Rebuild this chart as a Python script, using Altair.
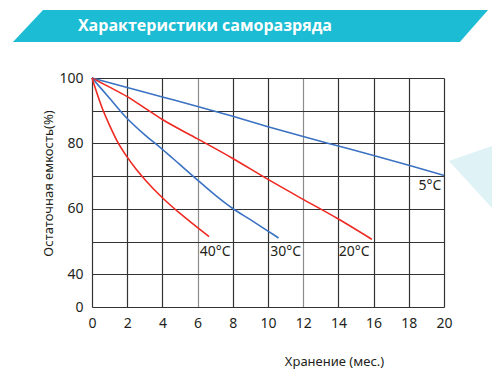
import altair as alt
import pandas as pd

# ---- data ----
months_5 = [0, 2, 4, 6, 8, 10, 12, 14, 16, 18, 20]
capacity_5 = [100, 97.1, 94.2, 91.3, 88.3, 85.1, 82.1, 79.2, 76.3, 73.3, 70.2]

months_20 = [0, 1, 2, 3, 4, 6, 8, 10, 12, 14, 15.9]
capacity_20 = [100, 97.2, 94.3, 90.8, 87.3, 81.4, 75.4, 69.0, 62.9, 56.9, 50.7]

months_30 = [0, 1, 2, 3, 4, 5, 6, 7, 8, 9, 10, 10.6]
capacity_30 = [100, 93.8, 87.6, 82.6, 78.2, 73.5, 68.8, 64.2, 60.1, 56.7, 53.2, 51.1]

months_40 = [0, 0.6, 1.0, 1.4, 2.0, 2.5, 3.0, 4.0, 5.0, 6.0, 6.65]
capacity_40 = [100, 90.5, 85.5, 81, 75.8, 72.2, 69, 63.4, 58.6, 54.3, 51.5]

series_names = ["5°C", "20°C", "30°C", "40°C"]
series_colors = ["#3b72c2", "#ee2a22", "#3b72c2", "#ee2a22"]

label_text = ["40°C", "30°C", "20°C", "5°C"]
label_month = [7.0, 11.0, 14.9, 19.2]
label_value = [46.8, 46.8, 46.8, 67.0]

x_ticks = list(range(0, 21, 2))
y_ticks = [30, 40, 50, 60, 70, 80, 90, 100]

title_text = "Характеристики саморазряда"
x_title = "Хранение (мес.)"
y_title = "Остаточная емкость(%)"

# ---- tables ----
rows = []
for name, ms, cs in [("5°C", months_5, capacity_5), ("20°C", months_20, capacity_20),
                     ("30°C", months_30, capacity_30), ("40°C", months_40, capacity_40)]:
    for m, c in zip(ms, cs):
        rows.append({"series": name, "month": m, "value": c})
df = pd.DataFrame(rows)
labels_df = pd.DataFrame({"text": label_text, "month": label_month, "value": label_value})

# decorative shapes (banner and side triangle), in chart units
banner_df = pd.DataFrame({"month": [-4.49, -2.78, 20.9, 22.5],
                          "value": [111.0, 120.8, 120.8, 120.8],
                          "bottom": [111.0, 111.0, 111.0, 120.8]})
tri_df = pd.DataFrame({"month": [20.28, 24.0], "value": [74.6, 81.6], "bottom": [74.6, 52.8]})
title_df = pd.DataFrame({"text": [title_text], "month": [-0.8], "value": [115.9]})

FONT = "Noto Sans"
DARK = "#231f20"

xscale = alt.Scale(domain=[0, 20], nice=False, zero=False)
yscale = alt.Scale(domain=[30, 100], nice=False, zero=False)

x_axis = alt.Axis(values=x_ticks, title=x_title, grid=True, domain=False, ticks=False,
                  labelPadding=9, labelFontSize=14, labelFont=FONT, labelColor=DARK,
                  labelOverlap=False,
                  titleFont=FONT, titleFontSize=13, titleFontWeight="normal", titleColor=DARK,
                  titleX=242, titleY=54, titleAlign="center", titleBaseline="middle",
                  gridColor={"condition": {"test": "datum.value == 6 || datum.value == 12",
                                           "value": "#8c8c8c"}, "value": "#333333"},
                  gridWidth=1.2, gridOpacity=1, labelFlush=False)
y_axis = alt.Axis(values=y_ticks, title=y_title, grid=True, domain=False, ticks=False,
                  labelPadding=9, labelFontSize=14, labelFont=FONT, labelColor=DARK,
                  labelOverlap=False,
                  labelExpr="datum.value == 30 ? '0' : (datum.value % 20 == 0 ? datum.label : '')",
                  titleFont=FONT, titleFontSize=13, titleFontWeight="normal", titleColor=DARK,
                  titleX=-44, titleY=105, titleAlign="center", titleBaseline="middle",
                  gridColor="#333333", gridWidth=1.2, gridOpacity=1, labelFlush=False)

X = alt.X("month:Q", scale=xscale, axis=x_axis)
Y = alt.Y("value:Q", scale=yscale, axis=y_axis)

lines = alt.Chart(df).mark_line(strokeWidth=1.6, clip=False, interpolate="monotone").encode(
    x=X, y=Y,
    color=alt.Color("series:N", scale=alt.Scale(domain=series_names, range=series_colors), legend=None),
    order="month:Q",
)

banner = alt.Chart(banner_df).mark_area(color="#1bbcd4", opacity=1, clip=False).encode(
    x=X, y=Y, y2="bottom:Q")
tri = alt.Chart(tri_df).mark_area(color="#dff2f6", opacity=1, clip=False).encode(
    x=X, y=Y, y2="bottom:Q")
title = alt.Chart(title_df).mark_text(font="Open Sans", fontSize=16, fontWeight="bold",
                                      color="white", align="left", baseline="middle").encode(
    x=X, y=Y, text="text:N")
labels = alt.Chart(labels_df).mark_text(font=FONT, fontSize=14, color=DARK,
                                        align="center", baseline="middle").encode(
    x=X, y=Y, text="text:N")

chart = alt.layer(lines, tri, banner, title, labels).properties(
    width=352, height=229,
    autosize=alt.AutoSizeParams(type="none"),
    padding={"left": 84, "top": 70, "right": 48, "bottom": 65},
).configure_view(stroke=DARK, strokeWidth=3).configure(background="white")

chart.save("out.html", embed_options={"renderer": "svg", "actions": False})
